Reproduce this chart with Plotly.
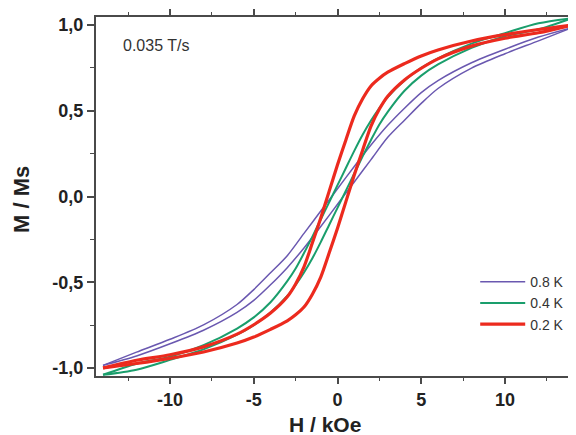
import plotly.graph_objects as go

# Field values (kOe)
H_red = [-14, -12, -10, -8, -6, -5, -4, -3, -2.5, -2, -1.5, -1, -0.5, 0, 0.5, 1, 1.5, 2, 2.5, 3, 4, 5, 6, 8, 10, 12, 14]
red_up = [-1.0, -0.955, -0.923, -0.877, -0.803, -0.748, -0.68, -0.585, -0.51, -0.41, -0.27, -0.125, 0.03, 0.185,
          0.33, 0.47, 0.57, 0.645, 0.69, 0.725, 0.775, 0.82, 0.855, 0.907, 0.944, 0.974, 1.0]
red_down = [-1.0, -0.974, -0.944, -0.907, -0.855, -0.82, -0.775, -0.725, -0.69, -0.645, -0.57, -0.47, -0.33, -0.185,
            -0.03, 0.125, 0.27, 0.41, 0.51, 0.585, 0.68, 0.748, 0.803, 0.877, 0.923, 0.955, 1.0]

H_green = [-14, -12, -10, -8, -6, -5, -4, -3, -2.5, -2, -1.5, -1, -0.5, 0, 0.5, 1, 1.5, 2, 2.5, 3, 4, 5, 6, 8, 10, 12, 14]
green_up = [-1.04, -0.975, -0.935, -0.867, -0.77, -0.705, -0.617, -0.494, -0.42, -0.33, -0.234, -0.134, -0.034, 0.066,
            0.166, 0.266, 0.36, 0.443, 0.516, 0.58, 0.676, 0.75, 0.806, 0.892, 0.953, 1.01, 1.04]
green_down = [-1.04, -1.01, -0.953, -0.892, -0.806, -0.75, -0.676, -0.58, -0.516, -0.443, -0.36, -0.266, -0.166, -0.066,
              0.034, 0.134, 0.234, 0.33, 0.42, 0.494, 0.617, 0.705, 0.77, 0.867, 0.935, 0.975, 1.04]

H_purple = [-14, -12, -10, -8, -6, -5, -4, -3, -2, -1, 0, 1, 2, 3, 4, 5, 6, 8, 10, 12, 14]
purple_up = [-0.985, -0.908, -0.833, -0.749, -0.63, -0.543, -0.445, -0.345, -0.215, -0.085, 0.045, 0.175, 0.30,
             0.415, 0.515, 0.606, 0.676, 0.78, 0.859, 0.93, 0.985]
purple_down = [-0.985, -0.93, -0.859, -0.78, -0.676, -0.606, -0.515, -0.415, -0.30, -0.175, -0.045, 0.085, 0.215,
               0.345, 0.445, 0.543, 0.63, 0.749, 0.833, 0.908, 0.985]

x_ticks = [-10, -5, 0, 5, 10]
x_ticklabels = ["-10", "-5", "0", "5", "10"]
y_ticks = [-1.0, -0.5, 0.0, 0.5, 1.0]
y_ticklabels = ["-1,0", "-0,5", "0,0", "0,5", "1,0"]

series = [
    ("0.8 K", H_purple, purple_up, purple_down, "#6a58b0", 1.5),
    ("0.4 K", H_green, green_up, green_down, "#1a9e6c", 2.0),
    ("0.2 K", H_red, red_up, red_down, "#ec2a1e", 3.2),
]

fig = go.Figure()
for name, H, up, down, color, w in series:
    fig.add_trace(go.Scatter(x=H, y=up, mode="lines", name=name, legendgroup=name,
                             line=dict(color=color, width=w, shape="spline", smoothing=0.8)))
    fig.add_trace(go.Scatter(x=H, y=down, mode="lines", name=name, legendgroup=name, showlegend=False,
                             line=dict(color=color, width=w, shape="spline", smoothing=0.8)))

axis_color = "#4a4a4a"
tickfont = dict(family="Arial, Liberation Sans, sans-serif", size=18, color="#222", weight=700)

# the page places the figure 8px in from the top-left corner; margins compensate
fig.update_layout(
    width=576, height=435,
    margin=dict(l=88, r=8, t=9, b=67, autoexpand=False),
    paper_bgcolor="white", plot_bgcolor="white",
    font=dict(family="Arial, Liberation Sans, sans-serif"),
    showlegend=True,
    legend=dict(x=0.79, y=0.306, xanchor="left", yanchor="top",
                bgcolor="rgba(0,0,0,0)", borderwidth=0,
                font=dict(size=14, color="#333"), tracegroupgap=0, itemwidth=45),
    xaxis=dict(range=[-14.42, 14.24], showgrid=False, zeroline=False,
               showline=True, linecolor=axis_color, linewidth=2, mirror="ticks",
               tickmode="array", tickvals=x_ticks, ticktext=x_ticklabels,
               ticks="outside", ticklen=6, tickwidth=1.5, tickcolor=axis_color,
               tickfont=tickfont, automargin=False,
               minor=dict(tickmode="linear", tick0=2.5, dtick=5, ticks="outside", ticklen=3,
                          tickwidth=1, tickcolor=axis_color)),
    yaxis=dict(range=[-1.047, 1.047], showgrid=False, zeroline=False,
               showline=True, linecolor=axis_color, linewidth=2, mirror=False,
               tickmode="array", tickvals=y_ticks, ticktext=y_ticklabels,
               ticks="outside", ticklen=7, tickwidth=1.5, tickcolor=axis_color,
               tickfont=tickfont, automargin=False,
               minor=dict(tickmode="linear", tick0=0.25, dtick=0.5, ticks="outside", ticklen=4,
                          tickwidth=1, tickcolor=axis_color)),
    annotations=[
        dict(text="M / Ms", x=(21 - 96) / 480, y=(376 - 200) / 359, xref="paper", yref="paper", showarrow=False,
             textangle=-90, font=dict(size=22, color="#222", weight=700), xanchor="center", yanchor="middle"),
        dict(text="H / kOe", x=(325 - 96) / 480, y=(376 - 424) / 359, xref="paper", yref="paper", showarrow=False,
             font=dict(size=21, color="#222", weight=700), xanchor="center", yanchor="middle"),
        dict(text="0.035 T/s", x=(156 - 96) / 480, y=(376 - 45) / 359, xref="paper", yref="paper", showarrow=False,
             font=dict(size=16, color="#333"), xanchor="center", yanchor="middle"),
    ],
)

fig.write_html("out.html")
